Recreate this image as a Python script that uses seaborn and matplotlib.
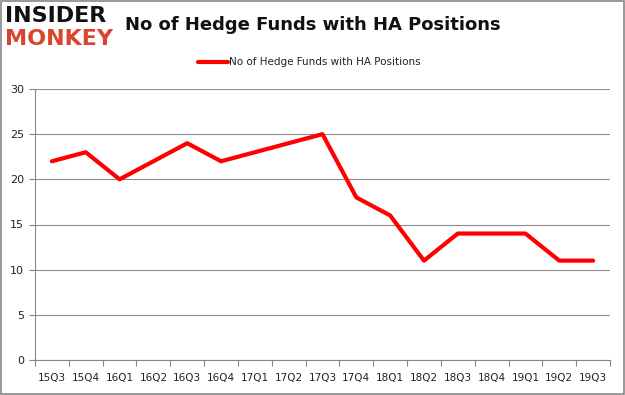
import matplotlib
matplotlib.use("Agg")
import matplotlib.pyplot as plt
import seaborn as sns
import pandas as pd
import numpy as np

quarters = ["15Q3", "15Q4", "16Q1", "16Q2", "16Q3", "16Q4", "17Q1", "17Q2", "17Q3",
            "17Q4", "18Q1", "18Q2", "18Q3", "18Q4", "19Q1", "19Q2", "19Q3"]
hedge_funds = [22, 23, 20, 22, 24, 22, 23, 24, 25, 18, 16, 11, 14, 14, 14, 11, 11]
series_name = "No of Hedge Funds with HA Positions"

df = pd.DataFrame({"pos": np.arange(len(quarters)), "funds": hedge_funds, "series": series_name})

sns.set_style("white")
plt.rcParams['font.family'] = ['DejaVu Sans']

fig = plt.figure(figsize=(6.25, 3.95), dpi=100)
ax = fig.add_axes([35 / 625, 1 - 360 / 395, 575 / 625, 271 / 395])

sns.lineplot(data=df, x="pos", y="funds", hue="series", palette=["#ff0000"],
             linewidth=3, ax=ax, legend=False)

ax.set_xlim(-0.5, len(quarters) - 0.5)
ax.set_ylim(0, 30)
ax.set_yticks(range(0, 31, 5))
ax.set_xticks(range(len(quarters)))
ax.set_xticklabels(quarters)
ax.set_xticks(np.arange(-0.5, len(quarters), 1), minor=True)
ax.tick_params(axis="x", which="both", bottom=True)
ax.tick_params(axis="x", which="major", length=0, pad=9, labelsize=7.5, labelcolor="#222222")
ax.tick_params(axis="x", which="minor", length=4, width=0.8, color="#888888", direction="out")
ax.tick_params(axis="y", left=True, length=4, width=0.8, color="#888888", direction="out",
               labelsize=8, labelcolor="#222222", pad=4)
ax.set_xlabel("")
ax.set_ylabel("")
ax.grid(axis="y", color="#8c8c8c", linewidth=0.8)
ax.set_axisbelow(True)
for side in ["top", "right"]:
    ax.spines[side].set_visible(False)
for side in ["left", "bottom"]:
    ax.spines[side].set_color("#888888")
    ax.spines[side].set_linewidth(0.8)

# titulo e legenda
fig.text(0.5, 1 - 25 / 395, "No of Hedge Funds with HA Positions", ha="center", va="center",
         fontsize=13, fontweight="bold", color="#111111")
fig.lines.append(plt.Line2D([198 / 625, 228 / 625], [1 - 62 / 395, 1 - 62 / 395],
                            color="#ff0000", linewidth=3, transform=fig.transFigure))
fig.text(229 / 625, 1 - 62 / 395, series_name, ha="left", va="center", fontsize=7.5, color="#222222")

# logo
fig.text(5 / 625, 1 - 16 / 395, "INSIDER", ha="left", va="center", fontsize=16,
         fontweight="heavy", color="#111111")
fig.text(5 / 625, 1 - 39 / 395, "MONKEY", ha="left", va="center", fontsize=16,
         fontweight="heavy", color="#d9442c")

# borda
fig.patches.append(plt.Rectangle((0.001, 0.002), 0.997, 0.996, transform=fig.transFigure,
                                 fill=False, edgecolor="#888888", linewidth=1.2))

fig.savefig("out.png", dpi=100)
